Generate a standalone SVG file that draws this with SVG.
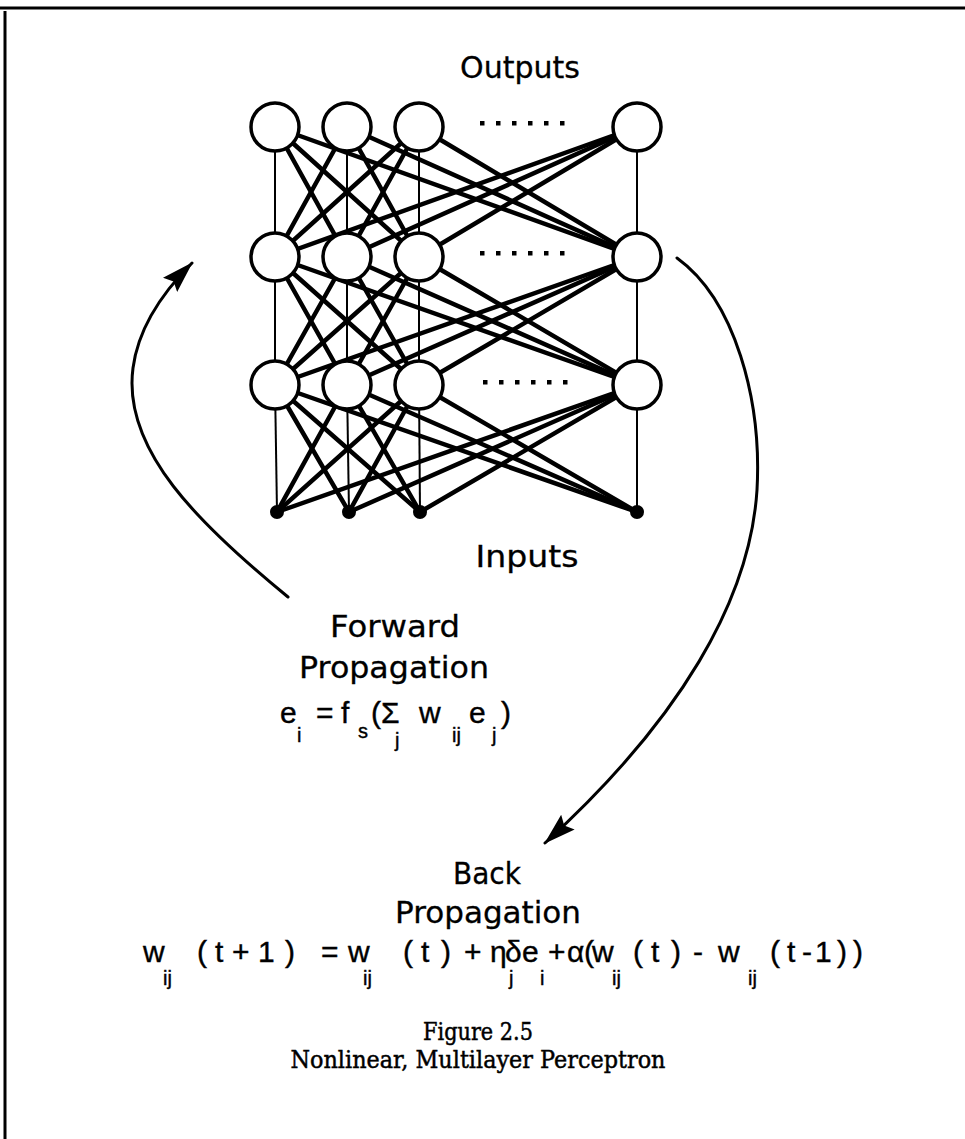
<svg xmlns="http://www.w3.org/2000/svg" width="965" height="1139" viewBox="0 0 965 1139">
<style>
.bg{fill:#fff}
.frame{stroke:#000;stroke-width:3;fill:none}
.w{stroke:#000;stroke-width:4.5;stroke-linecap:round}
.v{stroke:#000;stroke-width:2}
.node{fill:#fff;stroke:#000;stroke-width:3.5}
.inp{fill:#000}
.dot{fill:#000}
.curve{fill:none;stroke:#000;stroke-width:3;stroke-linecap:round}
.lbl{font-family:"DejaVu Sans","Liberation Sans",sans-serif;font-size:30px;fill:#000;stroke:#000;stroke-width:0.3}
.eq{font-family:"Liberation Sans","DejaVu Sans",sans-serif;font-size:30px;fill:#000;stroke:#000;stroke-width:0.4}
.sub{font-size:20px}
.cap{font-family:"DejaVu Serif","Liberation Serif",serif;font-size:25px;fill:#000;stroke:#000;stroke-width:0.5}
</style>
<defs>
<marker id="ah" markerUnits="userSpaceOnUse" markerWidth="32" markerHeight="20" viewBox="0 0 32 20" refX="31" refY="10" orient="auto">
<path d="M0,0 L32,10 L0,20 L5,10 z" fill="#000"/>
</marker>
<g id="dots6">
<rect x="-2" y="-2" width="4.5" height="4.5"/>
<rect x="14" y="-2" width="4.5" height="4.5"/>
<rect x="30" y="-2" width="4.5" height="4.5"/>
<rect x="46" y="-2" width="4.5" height="4.5"/>
<rect x="62" y="-2" width="4.5" height="4.5"/>
<rect x="78" y="-2" width="4.5" height="4.5"/>
</g>
</defs>
<rect class="bg" x="0" y="0" width="965" height="1139"/>
<g id="frame">
<line class="frame" x1="0" y1="8" x2="965" y2="8"/>
<line class="frame" x1="5" y1="11" x2="5" y2="1139"/>
</g>
<g id="connectors">
<line class="v" x1="275" y1="127" x2="275" y2="257"/>
<line class="w" x1="275" y1="127" x2="347" y2="257"/>
<line class="w" x1="275" y1="127" x2="419" y2="257"/>
<line class="w" x1="275" y1="127" x2="637" y2="257"/>
<line class="w" x1="347" y1="127" x2="275" y2="257"/>
<line class="v" x1="347" y1="127" x2="347" y2="257"/>
<line class="w" x1="347" y1="127" x2="419" y2="257"/>
<line class="w" x1="347" y1="127" x2="637" y2="257"/>
<line class="w" x1="419" y1="127" x2="275" y2="257"/>
<line class="w" x1="419" y1="127" x2="347" y2="257"/>
<line class="v" x1="419" y1="127" x2="419" y2="257"/>
<line class="w" x1="419" y1="127" x2="637" y2="257"/>
<line class="w" x1="637" y1="127" x2="275" y2="257"/>
<line class="w" x1="637" y1="127" x2="347" y2="257"/>
<line class="w" x1="637" y1="127" x2="419" y2="257"/>
<line class="v" x1="637" y1="127" x2="637" y2="257"/>
<line class="v" x1="275" y1="257" x2="275" y2="385"/>
<line class="w" x1="275" y1="257" x2="347" y2="385"/>
<line class="w" x1="275" y1="257" x2="419" y2="385"/>
<line class="w" x1="275" y1="257" x2="637" y2="385"/>
<line class="w" x1="347" y1="257" x2="275" y2="385"/>
<line class="v" x1="347" y1="257" x2="347" y2="385"/>
<line class="w" x1="347" y1="257" x2="419" y2="385"/>
<line class="w" x1="347" y1="257" x2="637" y2="385"/>
<line class="w" x1="419" y1="257" x2="275" y2="385"/>
<line class="w" x1="419" y1="257" x2="347" y2="385"/>
<line class="v" x1="419" y1="257" x2="419" y2="385"/>
<line class="w" x1="419" y1="257" x2="637" y2="385"/>
<line class="w" x1="637" y1="257" x2="275" y2="385"/>
<line class="w" x1="637" y1="257" x2="347" y2="385"/>
<line class="w" x1="637" y1="257" x2="419" y2="385"/>
<line class="v" x1="637" y1="257" x2="637" y2="385"/>
<line class="v" x1="275" y1="385" x2="277" y2="512"/>
<line class="w" x1="275" y1="385" x2="349" y2="512"/>
<line class="w" x1="275" y1="385" x2="420" y2="512"/>
<line class="w" x1="275" y1="385" x2="637" y2="512"/>
<line class="w" x1="347" y1="385" x2="277" y2="512"/>
<line class="v" x1="347" y1="385" x2="349" y2="512"/>
<line class="w" x1="347" y1="385" x2="420" y2="512"/>
<line class="w" x1="347" y1="385" x2="637" y2="512"/>
<line class="w" x1="419" y1="385" x2="277" y2="512"/>
<line class="w" x1="419" y1="385" x2="349" y2="512"/>
<line class="v" x1="419" y1="385" x2="420" y2="512"/>
<line class="w" x1="419" y1="385" x2="637" y2="512"/>
<line class="w" x1="637" y1="385" x2="277" y2="512"/>
<line class="w" x1="637" y1="385" x2="349" y2="512"/>
<line class="w" x1="637" y1="385" x2="420" y2="512"/>
<line class="v" x1="637" y1="385" x2="637" y2="512"/>
<path id="fwd-arrow" class="curve" d="M288,597 C200,525 122,450 133,368 C138,330 160,295 192,263" marker-end="url(#ah)"/>
<path id="back-arrow" class="curve" d="M677,258 C735,300 762,400 757,490 C750,600 680,720 545,843" marker-end="url(#ah)"/>
</g>
<g id="out1"><circle class="node" cx="275" cy="127" r="24"/></g>
<g id="out2"><circle class="node" cx="347" cy="127" r="24"/></g>
<g id="out3"><circle class="node" cx="419" cy="127" r="24"/></g>
<g id="outN"><circle class="node" cx="637" cy="127" r="24"/></g>
<g id="hid1a"><circle class="node" cx="275" cy="257" r="24"/></g>
<g id="hid2a"><circle class="node" cx="347" cy="257" r="24"/></g>
<g id="hid3a"><circle class="node" cx="419" cy="257" r="24"/></g>
<g id="hidNa"><circle class="node" cx="637" cy="257" r="24"/></g>
<g id="hid1b"><circle class="node" cx="275" cy="385" r="24"/></g>
<g id="hid2b"><circle class="node" cx="347" cy="385" r="24"/></g>
<g id="hid3b"><circle class="node" cx="419" cy="385" r="24"/></g>
<g id="hidNb"><circle class="node" cx="637" cy="385" r="24"/></g>
<g id="in1"><circle class="inp" cx="277" cy="512" r="7"/></g>
<g id="in2"><circle class="inp" cx="349" cy="512" r="7"/></g>
<g id="in3"><circle class="inp" cx="420" cy="512" r="7"/></g>
<g id="inN"><circle class="inp" cx="637" cy="512" r="7"/></g>
<g id="ellipses" class="dot">
<use href="#dots6" x="482" y="123"/>
<use href="#dots6" x="482" y="253"/>
<use href="#dots6" x="485" y="382"/>
</g>
<g id="labels">
<text class="lbl" x="520" y="78" text-anchor="middle" textLength="120" lengthAdjust="spacingAndGlyphs">Outputs</text>
<text class="lbl" x="527" y="567" text-anchor="middle" textLength="103" lengthAdjust="spacingAndGlyphs">Inputs</text>
</g>
<g id="forward-label">
<text class="lbl" x="395" y="637" text-anchor="middle" textLength="130" lengthAdjust="spacingAndGlyphs">Forward</text>
<text class="lbl" x="394" y="678" text-anchor="middle" textLength="190" lengthAdjust="spacingAndGlyphs">Propagation</text>
<text class="eq" y="723"><tspan x="280">e</tspan><tspan class="sub" x="297" y="742">i</tspan><tspan x="316" y="723">=</tspan><tspan x="341">f</tspan><tspan class="sub" x="358" y="738">s</tspan><tspan x="371" y="723">(</tspan><tspan x="381">Σ</tspan><tspan class="sub" x="395" y="747">j</tspan><tspan x="419" y="723">w</tspan><tspan class="sub" x="452" y="742">ij</tspan><tspan x="469" y="723">e</tspan><tspan class="sub" x="492" y="742">j</tspan><tspan x="501" y="723">)</tspan></text>
</g>
<g id="back-label">
<text class="lbl" x="487" y="884" text-anchor="middle" textLength="68" lengthAdjust="spacingAndGlyphs">Back</text>
<text class="lbl" x="488" y="923" text-anchor="middle" textLength="186" lengthAdjust="spacingAndGlyphs">Propagation</text>
<text class="eq" y="962"><tspan x="143">w</tspan><tspan class="sub" x="163" y="985">ij</tspan><tspan x="197 215 232 258 285" y="962">(t+1)</tspan><tspan x="321">=</tspan><tspan x="348">w</tspan><tspan class="sub" x="363" y="985">ij</tspan><tspan x="403 421 441" y="962">(t)</tspan><tspan x="464">+</tspan><tspan x="490 505">ηδ</tspan><tspan class="sub" x="509" y="985">j</tspan><tspan x="522" y="962">e</tspan><tspan class="sub" x="540" y="985">i</tspan><tspan x="548" y="962">+</tspan><tspan x="567 584">α(</tspan><tspan x="592">w</tspan><tspan class="sub" x="612" y="985">ij</tspan><tspan x="633 651 671" y="962">(t)</tspan><tspan x="693">-</tspan><tspan x="718">w</tspan><tspan class="sub" x="748" y="985">ij</tspan><tspan x="770 787 802 815 837 853" y="962">(t-1))</tspan></text>
</g>
<g id="caption">
<text class="cap" x="478" y="1040" text-anchor="middle" textLength="110" lengthAdjust="spacingAndGlyphs">Figure 2.5</text>
<text class="cap" x="478" y="1068" text-anchor="middle" textLength="375" lengthAdjust="spacingAndGlyphs">Nonlinear, Multilayer Perceptron</text>
</g>
</svg>
